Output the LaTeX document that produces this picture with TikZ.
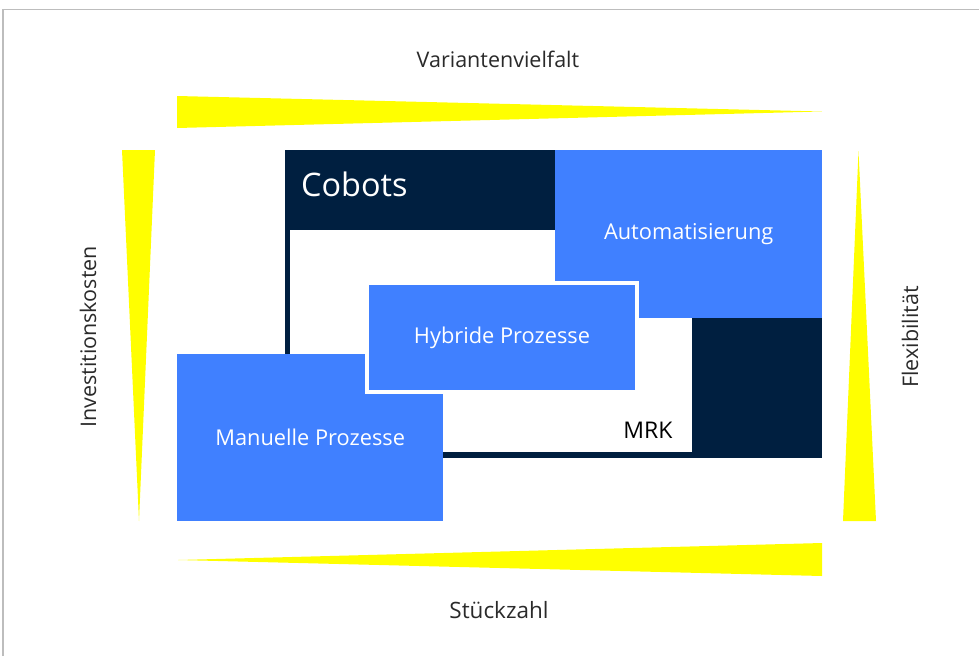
\documentclass[tikz,border=0pt]{standalone}
\usepackage{fontspec}
\setmainfont{Open Sans}
\definecolor{navy}{HTML}{001F40}
\definecolor{cblue}{HTML}{4080FF}
\definecolor{wedgeyellow}{HTML}{FFFF00}
\definecolor{framegray}{HTML}{BDBDBD}
\definecolor{labelgray}{HTML}{2A2A2A}

\begin{document}
\begin{tikzpicture}[x=1pt,y=-1pt,
  axislabel/.style={font=\fontsize{21.5}{25}\selectfont, text=labelgray, inner sep=0},
  boxlabel/.style={font=\fontsize{21.8}{26}\selectfont, text=white},
  wedgefill/.style={fill=wedgeyellow, draw=none},
  panel/.style={anchor=north west, inner sep=0, draw=none},
]
\useasboundingbox (0,0) rectangle (979,656);

% page frame (top and left edge)
\draw[framegray, line width=1.5pt] (3,656) -- (3,9.5) -- (979,9.5);

% tapering axis wedges
\fill[wedgefill] (177,96) -- (822,111.5) -- (177,128) -- cycle;
\fill[wedgefill] (122,150) -- (155,150) -- (139,521) -- cycle;
\fill[wedgefill] (858.5,151) -- (876,521) -- (843,521) -- cycle;
\fill[wedgefill] (178,560) -- (822,543) -- (822,576) -- cycle;

% axis labels
\node[axislabel] (variety) at (498,59) {Variantenvielfalt};
\node[axislabel, font=\fontsize{22.5}{26}\selectfont] (quantity) at (499,610) {Stückzahl};
\node[axislabel, rotate=90] (invest) at (88,337) {Investitionskosten};
\node[axislabel, rotate=90] (flex) at (910,337) {Flexibilität};

% cobot frame with inner MRK area
\node[panel, fill=navy, minimum width=537, minimum height=308] (cobots) at (285,150) {};
\node[panel, fill=white, minimum width=402, minimum height=222] (mrk) at (290,230) {};
\node[font=\fontsize{32.4}{38}\selectfont, text=white, anchor=west, inner sep=0] (cobotslabel) at (301,184) {Cobots};
\node[font=\fontsize{23}{27}\selectfont, text=black, inner sep=0] (mrklabel) at (648,430) {MRK};

% process boxes
\node[panel, fill=cblue, minimum width=267, minimum height=168] (auto) at (555,150) {};
\node[boxlabel] at (auto.center) {Automatisierung};
\node[panel, fill=cblue, minimum width=266, minimum height=167] (manual) at (177,354) {};
\node[boxlabel] at (manual.center) {Manuelle Prozesse};
\node[panel, fill=cblue, draw=white, line width=4pt, minimum width=270, minimum height=109] (hybrid) at (365,281) {};
\node[boxlabel] at (hybrid.center) {Hybride Prozesse};
\end{tikzpicture}
\end{document}
